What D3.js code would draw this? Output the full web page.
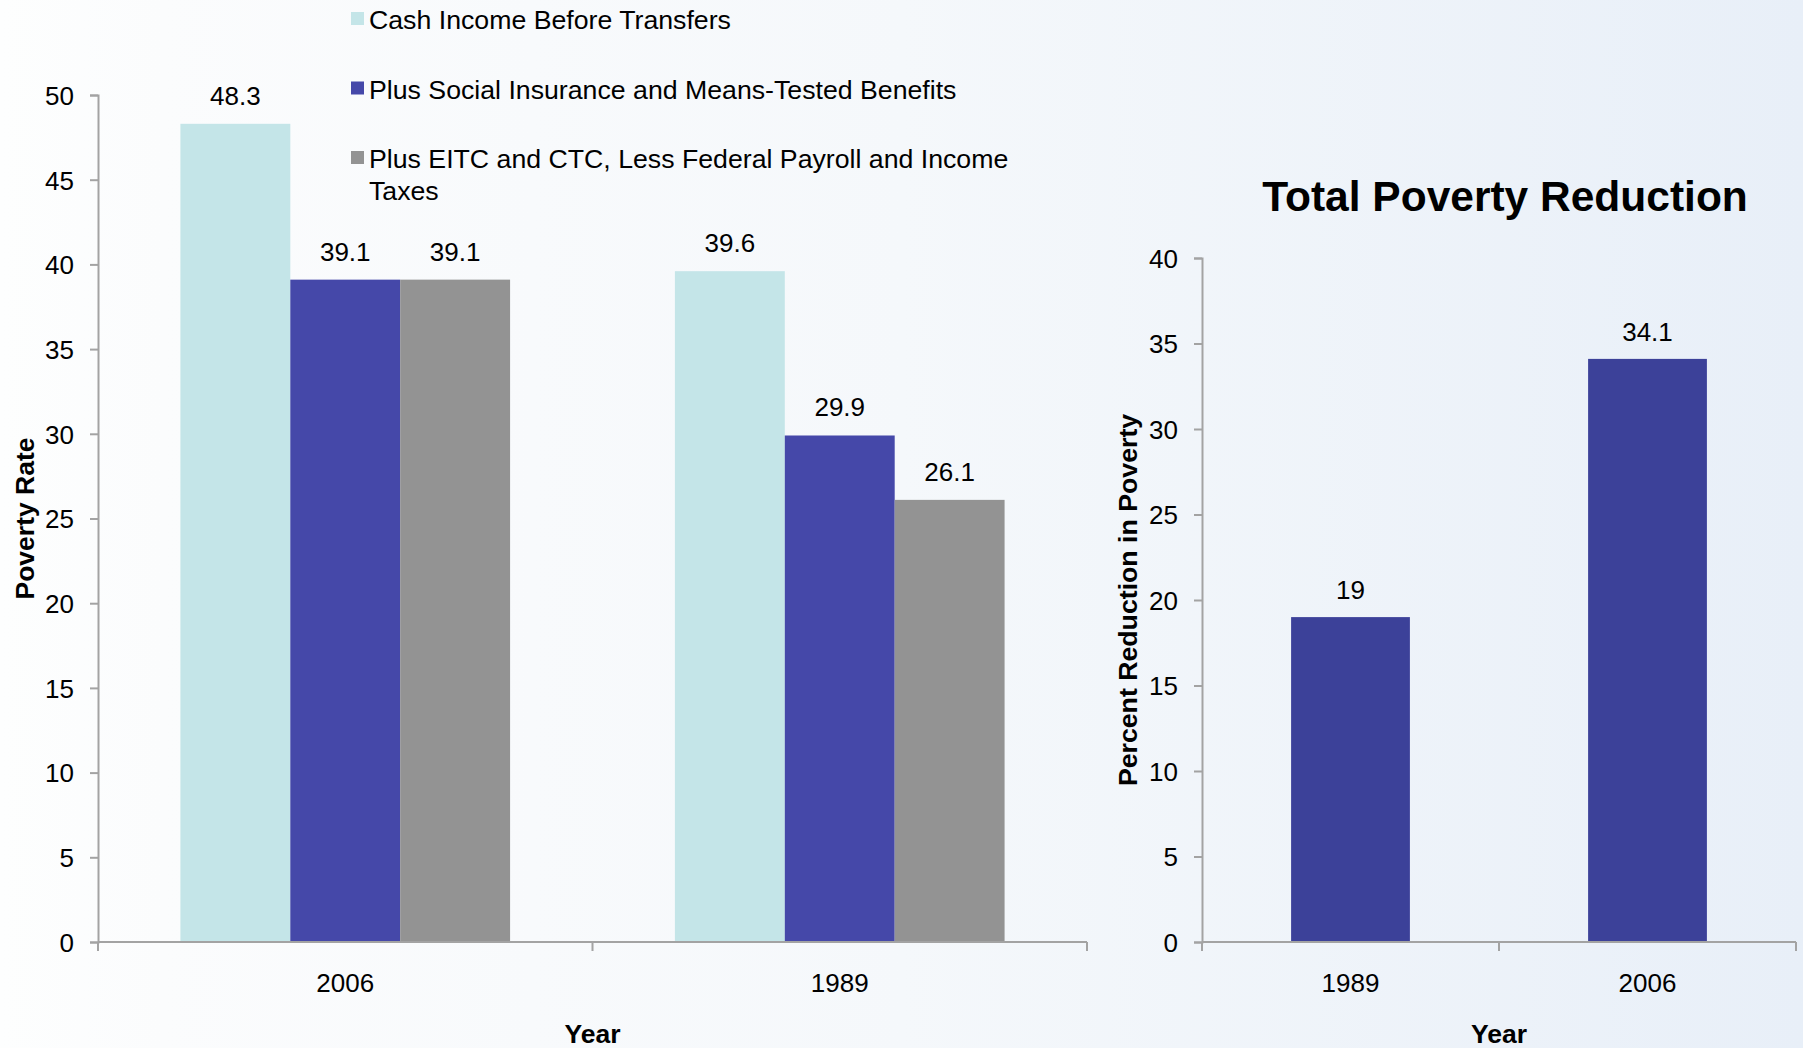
<!DOCTYPE html>
<html>
<head>
<meta charset="utf-8">
<script src="https://cdn.jsdelivr.net/npm/d3@7"></script>
<style>
  body { margin: 0; }
  svg { display: block; font-family: "Liberation Sans", Arial, sans-serif; }
  .axis path, .axis line { stroke: #a3a3a3; stroke-width: 2; }
  .axis text { font-size: 26px; fill: #000; }
</style>
</head>
<body>
<svg width="1803" height="1048"></svg>
<script>
// left chart: poverty rate by year and stage of transfers
var years = ["2006", "1989"];
var seriesNames = [
  "Cash Income Before Transfers",
  "Plus Social Insurance and Means-Tested Benefits",
  "Plus EITC and CTC, Less Federal Payroll and Income Taxes"
];
var cashIncome = [48.3, 39.6];
var plusBenefits = [39.1, 29.9];
var plusTaxes = [39.1, 26.1];
var rateTicks = [0, 5, 10, 15, 20, 25, 30, 35, 40, 45, 50];

// right chart: total poverty reduction
var reductionYears = ["1989", "2006"];
var reduction = [19, 34.1];
var reductionTicks = [0, 5, 10, 15, 20, 25, 30, 35, 40];

var colors = ["#c4e5e8", "#4548a9", "#939393"];

var svg = d3.select("svg");

var grad = svg.append("defs").append("linearGradient")
    .attr("id", "bg")
    .attr("x1", 0).attr("x2", 1).attr("y1", 0).attr("y2", 0);
grad.append("stop").attr("offset", "0").attr("stop-color", "#fdfefe");
grad.append("stop").attr("offset", "0.09").attr("stop-color", "#fbfcfd");
grad.append("stop").attr("offset", "0.5").attr("stop-color", "#f5f8fb");
grad.append("stop").attr("offset", "1").attr("stop-color", "#e8eff8");

svg.append("rect")
    .attr("width", 1803).attr("height", 1048)
    .attr("fill", "url(#bg)");

// ---------------------------------------------------------------------------
// Left chart
// ---------------------------------------------------------------------------

var table = years.map(function(y, i) {
  return {year: y, values: [cashIncome[i], plusBenefits[i], plusTaxes[i]]};
});

var x0 = d3.scaleBand().domain(years).range([98, 1087]).padding(0),
    x1 = d3.scaleBand().domain([0, 1, 2]).range([0, x0.bandwidth()]).paddingOuter(0.75),
    y = d3.scaleLinear().domain([0, 50]).range([942, 95]);

var groups = svg.append("g").selectAll("g")
  .data(table)
  .enter().append("g")
    .attr("transform", function(d) { return "translate(" + x0(d.year) + ",0)"; });

groups.selectAll("rect")
  .data(function(d) { return d.values; })
  .enter().append("rect")
    .attr("x", function(d, i) { return x1(i); })
    .attr("y", function(d) { return y(d); })
    .attr("width", x1.bandwidth())
    .attr("height", function(d) { return y(0) - y(d); })
    .attr("fill", function(d, i) { return colors[i]; });

groups.selectAll("text")
  .data(function(d) { return d.values; })
  .enter().append("text")
    .attr("x", function(d, i) { return x1(i) + x1.bandwidth() / 2; })
    .attr("y", function(d) { return y(d) - 19; })
    .attr("text-anchor", "middle")
    .style("font-size", "26px")
    .text(function(d) { return d; });

svg.append("g")
    .attr("class", "axis")
    .attr("transform", "translate(98,0)")
    .call(d3.axisLeft(y).tickValues(rateTicks).tickSize(8).tickPadding(16))
    .call(function(g) { g.selectAll("text").attr("dy", "0.36em"); });

drawXAxis(x0, y(0), years);

svg.append("text")
    .attr("transform", "translate(34," + (y(0) + y(50)) / 2 + ") rotate(-90)")
    .attr("text-anchor", "middle")
    .style("font-size", "26.5px").style("font-weight", "bold")
    .text("Poverty Rate");

svg.append("text")
    .attr("x", (x0.range()[0] + x0.range()[1]) / 2)
    .attr("y", 1043)
    .attr("text-anchor", "middle")
    .style("font-size", "26.5px").style("font-weight", "bold")
    .text("Year");

// legend
var legend = svg.append("g").selectAll("g")
  .data(seriesNames)
  .enter().append("g")
    .attr("transform", function(d, i) { return "translate(351," + (29 + i * 69.5) + ")"; });

legend.append("rect")
    .attr("y", -17)
    .attr("width", 13).attr("height", 13)
    .attr("fill", function(d, i) { return colors[i]; });

legend.append("text")
    .attr("x", 18)
    .style("font-size", "26.7px")
    .each(function(d) {
      var t = d3.select(this);
      var lines = d === seriesNames[2]
        ? ["Plus EITC and CTC, Less Federal Payroll and Income", "Taxes"]
        : [d];
      lines.forEach(function(l, k) {
        t.append("tspan").attr("x", 18).attr("dy", k ? 32 : 0).text(l);
      });
    });

// ---------------------------------------------------------------------------
// Right chart
// ---------------------------------------------------------------------------

var xr = d3.scaleBand().domain(reductionYears).range([1202, 1796]).padding(0),
    yr = d3.scaleLinear().domain([0, 40]).range([942, 258]);
var barW = xr.bandwidth() * 0.4;

svg.append("g").selectAll("rect")
  .data(reduction)
  .enter().append("rect")
    .attr("x", function(d, i) { return xr(reductionYears[i]) + (xr.bandwidth() - barW) / 2; })
    .attr("y", function(d) { return yr(d); })
    .attr("width", barW)
    .attr("height", function(d) { return yr(0) - yr(d); })
    .attr("fill", "#3c4199");

svg.append("g").selectAll("text")
  .data(reduction)
  .enter().append("text")
    .attr("x", function(d, i) { return xr(reductionYears[i]) + xr.bandwidth() / 2; })
    .attr("y", function(d) { return yr(d) - 18; })
    .attr("text-anchor", "middle")
    .style("font-size", "26px")
    .text(function(d) { return d; });

svg.append("g")
    .attr("class", "axis")
    .attr("transform", "translate(1202,0)")
    .call(d3.axisLeft(yr).tickValues(reductionTicks).tickSize(8).tickPadding(16))
    .call(function(g) { g.selectAll("text").attr("dy", "0.36em"); });

drawXAxis(xr, yr(0), reductionYears);

svg.append("text")
    .attr("transform", "translate(1137," + (yr(0) + yr(40)) / 2 + ") rotate(-90)")
    .attr("text-anchor", "middle")
    .style("font-size", "26.7px").style("font-weight", "bold")
    .text("Percent Reduction in Poverty");

svg.append("text")
    .attr("x", (xr.range()[0] + xr.range()[1]) / 2)
    .attr("y", 1043)
    .attr("text-anchor", "middle")
    .style("font-size", "26.5px").style("font-weight", "bold")
    .text("Year");

svg.append("text")
    .attr("x", 1505)
    .attr("y", 211)
    .attr("text-anchor", "middle")
    .style("font-size", "42.5px").style("font-weight", "bold")
    .text("Total Poverty Reduction");

// category axis with ticks on the band boundaries
function drawXAxis(scale, y0, cats) {
  var r = scale.range();
  var g = svg.append("g").attr("class", "axis");
  g.append("line")
      .attr("x1", r[0]).attr("x2", r[1])
      .attr("y1", y0).attr("y2", y0);
  var bounds = cats.map(function(c) { return scale(c); }).concat([r[1]]);
  g.selectAll(".tick")
    .data(bounds)
    .enter().append("line")
      .attr("x1", function(d) { return d; }).attr("x2", function(d) { return d; })
      .attr("y1", y0).attr("y2", y0 + 9);
  g.selectAll("text")
    .data(cats)
    .enter().append("text")
      .attr("x", function(d) { return scale(d) + scale.bandwidth() / 2; })
      .attr("y", y0 + 50)
      .attr("text-anchor", "middle")
      .text(function(d) { return d; });
}
</script>
</body>
</html>
